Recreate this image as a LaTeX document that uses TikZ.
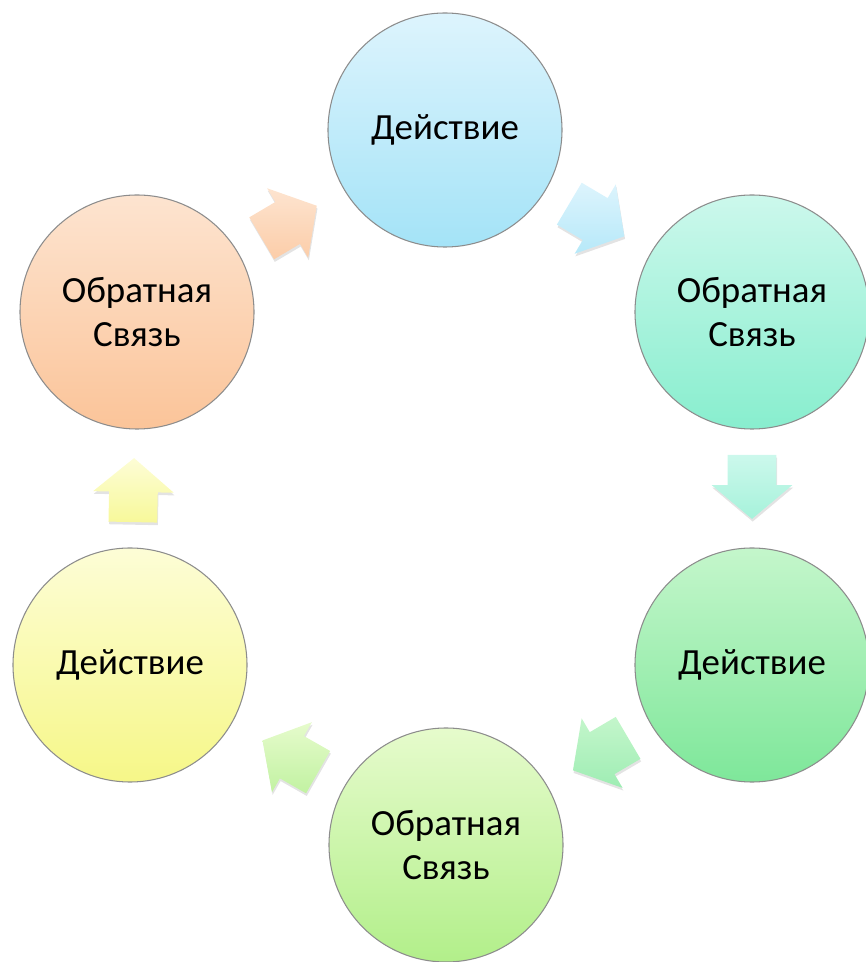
\documentclass[tikz,border=0pt]{standalone}
\usepackage{fontspec}
\setmainfont{Carlito}
\usetikzlibrary{shapes.arrows,shadows}

\definecolor{blueT}{HTML}{DDF4FD}  \definecolor{blueB}{HTML}{A4E3F7}
\definecolor{tealT}{HTML}{CCF8EC}  \definecolor{tealB}{HTML}{88EECE}
\definecolor{greenT}{HTML}{C4F6CB} \definecolor{greenB}{HTML}{7EE79A}
\definecolor{limeT}{HTML}{E6FBCC}  \definecolor{limeB}{HTML}{B2EF8A}
\definecolor{yelT}{HTML}{FDFDD6}   \definecolor{yelB}{HTML}{F6F788}
\definecolor{orT}{HTML}{FDE4D0}    \definecolor{orB}{HTML}{FBC499}

\begin{document}
\begin{tikzpicture}[
    cnode/.style 2 args={draw=gray!90,line width=0.6pt,circle,minimum size=4.68cm,
        inner sep=0pt,align=center,top color=#1,bottom color=#2,
        font=\fontsize{21}{25}\selectfont},
    barrow/.style 2 args={single arrow,draw=none,minimum height=1.28cm,
        minimum width=1.6cm,single arrow head extend=0.32cm,
        single arrow tip angle=100,inner xsep=0pt,inner ysep=0.48cm,
        top color=#1,bottom color=#2,
        drop shadow={opacity=0.22,shadow xshift=0.4pt,shadow yshift=-1.5pt},
        sloped,allow upside down,pos=0.40}]
    \useasboundingbox (0,0) rectangle (17.32,19.24);

    \node[cnode={blueT}{blueB}]   (a1) at (8.90,16.64) {Действие};
    \node[cnode={tealT}{tealB}]   (f1) at (15.04,13.00) {Обратная\\Связь};
    \node[cnode={greenT}{greenB}] (a2) at (15.04,5.94) {Действие};
    \node[cnode={limeT}{limeB}]   (f2) at (8.92,2.34) {Обратная\\Связь};
    \node[cnode={yelT}{yelB}]     (a3) at (2.60,5.94) {Действие};
    \node[cnode={orT}{orB}]       (f3) at (2.74,13.00) {Обратная\\Связь};

    \path (a1) -- node[barrow={blueT}{blueB!80}] (p1) {} (f1) ;
    \path (f1) -- node[barrow={tealT}{tealB!75}] (p2) {} (a2) ;
    \path (a2) -- node[barrow={greenT}{greenB!75}] (p3) {} (f2) ;
    \path (f2) -- node[barrow={limeT}{limeB!80}] (p4) {} (a3) ;
    \path (a3) -- node[barrow={yelT}{yelB!85}] (p5) {} (f3) ;
    \path (f3) -- node[barrow={orT}{orB!85}] (p6) {} (a1) ;
\end{tikzpicture}
\end{document}
